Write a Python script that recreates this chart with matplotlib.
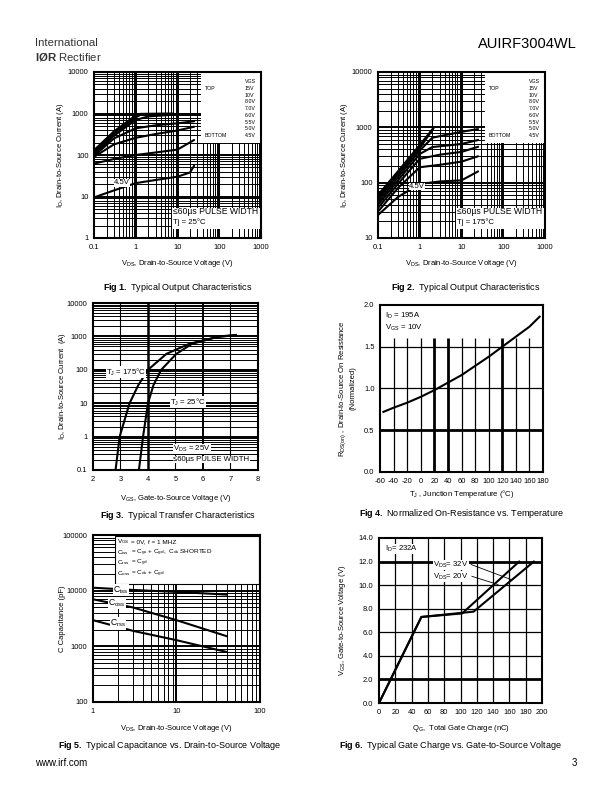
import matplotlib
matplotlib.use('Agg')
import matplotlib.pyplot as plt
import numpy as np
from matplotlib.patches import Rectangle
from matplotlib.ticker import FixedLocator, NullFormatter, LogLocator

plt.rcParams['font.family'] = ['Liberation Sans', 'DejaVu Sans']
plt.rcParams['mathtext.fontset'] = 'custom'
plt.rcParams['mathtext.rm'] = 'Liberation Sans'
plt.rcParams['mathtext.it'] = 'Liberation Sans:italic'
plt.rcParams['mathtext.bf'] = 'Liberation Sans:bold'

# ---------------- data ----------------
vgs_steps = ['15V', '10V', '8.0V', '7.0V', '6.0V', '5.5V', '5.0V', '4.5V']

# Fig 1 : Tj = 25 C
f1_vds = [[0.1, 0.3, 1.0, 1.3, 3, 8],
          [0.1, 0.3, 1.0, 1.3],
          [0.1, 0.3, 1.0, 1.3],
          [0.1, 0.3, 1.0, 2, 10],
          [0.1, 0.3, 1, 3, 10, 25],
          [0.1, 0.3, 1, 3, 10, 25],
          [0.1, 0.3, 1, 3, 10, 25],
          [0.1, 0.3, 1, 3, 10, 20, 25]]
f1_id = [[130, 370, 900, 980, 990, 1000],
         [120, 340, 850, 960],
         [110, 310, 800, 940],
         [100, 290, 700, 850, 950],
         [95, 250, 440, 520, 580, 650],
         [90, 180, 260, 320, 390, 480],
         [62, 80, 100, 115, 135, 230],
         [9.5, 14, 21, 25, 30, 38, 55]]

# Fig 2 : Tj = 175 C
f2_vds = [[0.1, 0.3, 1, 2.2],
          [0.1, 0.3, 1, 2.1],
          [0.1, 0.3, 1, 2.0],
          [0.1, 0.3, 1, 2, 10, 25],
          [0.1, 0.3, 1, 2, 10, 25],
          [0.1, 0.3, 1, 3, 10, 25],
          [0.1, 0.3, 1, 3, 10, 25],
          [0.1, 0.3, 1, 3, 10, 25]]
f2_id = [[60, 160, 480, 1000],
         [55, 150, 450, 950],
         [50, 140, 420, 900],
         [45, 125, 380, 650, 830, 930],
         [40, 110, 330, 440, 500, 590],
         [35, 95, 270, 320, 360, 445],
         [30, 80, 190, 210, 240, 300],
         [26, 55, 95, 105, 110, 160]]

# Fig 3 : transfer characteristics
f3_vgs_175 = [2.82, 2.97, 3.33, 3.65, 4.0, 4.67, 5.5, 6.6, 7.2]
f3_id_175 = [0.1, 1, 10, 35, 100, 300, 600, 1000, 1100]
f3_vgs_25 = [3.67, 3.82, 4.0, 4.2, 4.48, 5.03, 5.6, 6.5, 7.2]
f3_id_25 = [0.1, 1, 10, 35, 100, 300, 600, 950, 1100]

# Fig 4 : normalized Rds(on) vs Tj
f4_tj = [-55, -40, -20, 0, 20, 40, 60, 80, 100, 120, 140, 160, 175]
f4_r = [0.72, 0.77, 0.83, 0.90, 0.98, 1.07, 1.16, 1.27, 1.38, 1.50, 1.62, 1.74, 1.86]

# Fig 5 : capacitance
f5_vds = [1, 3, 10, 40]
f5_ciss = [11300, 10300, 9500, 8500]
f5_coss = [7000, 5000, 2950, 1520]
f5_crss = [2950, 1900, 1290, 790]

# Fig 6 : gate charge
f6_qg_20 = [0, 52, 102, 172]
f6_vgs_20 = [0, 7.3, 7.6, 12.0]
f6_qg_32 = [0, 52, 116, 190]
f6_vgs_32 = [0, 7.3, 7.75, 12.0]

# ---------------- helpers ----------------
W, H = 612, 792
fig = plt.figure(figsize=(6.12, 7.92), dpi=100)


def rect(l, t, r, b):
    return [l / W, 1 - b / H, (r - l) / W, (b - t) / H]


def P(x, y):
    return (x / W, 1 - y / H)


def ftext(x, y, s, **kw):
    kw.setdefault('fontsize', 5.5)
    kw.setdefault('va', 'center')
    fig.text(x / W, 1 - y / H, s, **kw)


def white_box(ax, l, t, r, b):
    ax.add_patch(Rectangle(P(l, b), (r - l) / W, (b - t) / H, transform=fig.transFigure,
                           facecolor='white', edgecolor='none', zorder=1.5, clip_on=False))


def base(ax):
    for s in ax.spines.values():
        s.set_linewidth(1.5)
        s.set_zorder(3)
    ax.tick_params(which='both', length=0, labelsize=5.4, pad=4)
    ax.set_axisbelow(True)


def loggrid(ax, axis):
    a = ax.xaxis if axis == 'x' else ax.yaxis
    a.set_minor_locator(LogLocator(base=10, subs=np.arange(2, 10), numticks=100))
    a.set_minor_formatter(NullFormatter())
    ax.grid(which='major', axis=axis, color='k', lw=1.4)
    ax.grid(which='minor', axis=axis, color='k', lw=0.7)


LW = 1.5
WB = dict(facecolor='white', edgecolor='none', pad=0.3)


# ---------------- Fig 1 & 2 ----------------
def output_plot(rect_px, vds, ids, ylo, lab45, tj):
    l, t, r, b = rect_px
    ax = fig.add_axes(rect(*rect_px))
    base(ax)
    ax.set_xscale('log'); ax.set_yscale('log')
    ax.set_xlim(0.1, 1000); ax.set_ylim(ylo, 10000)
    xt = [0.1, 1, 10, 100, 1000]
    ax.xaxis.set_major_locator(FixedLocator(xt))
    ax.set_xticklabels(['0.1', '1', '10', '100', '1000'])
    yt = [v for v in [1, 10, 100, 1000, 10000] if v >= ylo]
    ax.yaxis.set_major_locator(FixedLocator(yt))
    ax.set_yticklabels([str(v) for v in yt])
    loggrid(ax, 'x'); loggrid(ax, 'y')
    for xs, ys in zip(vds, ids):
        ax.plot(xs, ys, color='k', lw=LW, zorder=2, solid_capstyle='round')
    # legend box
    bl = r - 60
    white_box(ax, bl, t + 1, r - 1, 143)
    ftext(r - 16, 81.7, 'VGS', fontsize=3.8, zorder=5)
    for i, s in enumerate(vgs_steps):
        ftext(r - 16, 88.3 + 6.77 * i, s, fontsize=3.8, zorder=5)
    ftext(bl + 4, 88.3, 'TOP', fontsize=3.8, zorder=5)
    ftext(bl + 4, 88.3 + 6.77 * 7, 'BOTTOM', fontsize=3.8, zorder=5)
    # pulse box
    white_box(ax, r - 89, 207.5, r - 1, 228.5)
    ftext(r - 88, 212, '\u226460\u00b5s PULSE WIDTH', fontsize=6.2, zorder=5)
    ftext(r - 88, 222, tj, fontsize=5.6, zorder=5)
    ftext(lab45[0], lab45[1], '4.5V', fontsize=5.6, zorder=5, bbox=WB)
    cx = (l + r) / 2
    ftext(cx, 264, r'V$_{\rm DS}$, Drain-to-Source Voltage (V)', ha='center')
    ftext(l - 33, (t + b) / 2, r'I$_{\rm D}$, Drain-to-Source Current (A)', ha='center',
          rotation=90)
    return ax


output_plot((94, 72, 261, 238), f1_vds, f1_id, 1, (114, 183), 'Tj = 25°C')
output_plot((378, 72, 545, 238), f2_vds, f2_id, 10, (409, 186.5), 'Tj = 175°C')

# ---------------- Fig 3 ----------------
l, t, r, b = 93, 303, 258, 470
ax3 = fig.add_axes(rect(l, t, r, b))
base(ax3)
ax3.set_yscale('log')
ax3.set_xlim(2, 8); ax3.set_ylim(0.1, 10000)
ax3.xaxis.set_major_locator(FixedLocator([2, 3, 4, 5, 6, 7, 8]))
ax3.set_xticklabels(['2', '3', '4', '5', '6', '7', '8'])
ax3.yaxis.set_major_locator(FixedLocator([0.1, 1, 10, 100, 1000, 10000]))
ax3.set_yticklabels(['0.1', '1', '10', '100', '1000', '10000'])
loggrid(ax3, 'y')
for xv, w in [(3, 0.8), (4, 1.8), (5, 0.8), (6, 1.4), (7, 0.8)]:
    ax3.axvline(xv, color='k', lw=w, zorder=0.6)
ax3.plot(f3_vgs_175, f3_id_175, color='k', lw=LW, zorder=2)
ax3.plot(f3_vgs_25, f3_id_25, color='k', lw=LW, zorder=2)
ftext(106, 372, r'T$_{\rm J}$ = 175°C', fontsize=5.6, bbox=WB)
ftext(170, 402, r'T$_{\rm J}$ = 25°C', fontsize=5.6, bbox=WB)
ftext(173, 449, r'V$_{\rm DS}$ = 25V', fontsize=5.6, bbox=WB)
ftext(173, 459.5, '\u226460\u00b5s PULSE WIDTH', fontsize=5.6, bbox=WB)
ftext((l + r) / 2, 498, r'V$_{\rm GS}$, Gate-to-Source Voltage (V)', ha='center')
ftext(l - 31, (t + b) / 2, r'I$_{\rm D}$, Drain-to-Source Current  (A)', ha='center', rotation=90)

# ---------------- Fig 4 ----------------
l, t, r, b = 380, 305, 543, 472
ax4 = fig.add_axes(rect(l, t, r, b))
base(ax4)
ax4.set_xlim(-60, 180); ax4.set_ylim(0, 2.0)
xt4 = list(range(-60, 181, 20))
ax4.xaxis.set_major_locator(FixedLocator(xt4))
ax4.set_xticklabels([str(v) for v in xt4])
yt4 = [0.0, 0.5, 1.0, 1.5, 2.0]
ax4.yaxis.set_major_locator(FixedLocator(yt4))
ax4.set_yticklabels(['%.1f' % v for v in yt4])
for xv in range(-40, 180, 20):
    w = 2.0 if xv in (20, 40, 120) else 0.9
    ax4.vlines(xv, 0.0, 1.6, color='k', lw=w, zorder=0.6)
for yv, w in [(0.5, 2.0), (1.0, 0.9), (1.5, 0.9)]:
    ax4.axhline(yv, color='k', lw=w, zorder=0.6)
ax4.plot(f4_tj, f4_r, color='k', lw=LW, zorder=2)
ftext(385, 315.5, r'I$_{\rm D}$ = 195A', fontsize=5.6)
ftext(385, 327.5, r'V$_{\rm GS}$ = 10V', fontsize=5.6)
ftext((l + r) / 2, 494, r'T$_{\rm J}$ , Junction Temperature (°C)', ha='center')
ftext(343, (t + b) / 2, r'R$_{\rm DS(on)}$ , Drain-to-Source On Resistance', ha='center', rotation=90)
ftext(353, (t + b) / 2, '(Normalized)', ha='center', rotation=90)

# ---------------- Fig 5 ----------------
l, t, r, b = 93, 535, 260, 702
ax5 = fig.add_axes(rect(l, t, r, b))
base(ax5)
ax5.set_xscale('log'); ax5.set_yscale('log')
ax5.set_xlim(1, 100); ax5.set_ylim(100, 100000)
ax5.xaxis.set_major_locator(FixedLocator([1, 10, 100]))
ax5.set_xticklabels(['1', '10', '100'])
ax5.yaxis.set_major_locator(FixedLocator([100, 1000, 10000, 100000]))
ax5.set_yticklabels(['100', '1000', '10000', '100000'])
loggrid(ax5, 'x'); loggrid(ax5, 'y')
white_box(ax5, 115, t + 1, r - 1, 584)
ax5.add_patch(Rectangle(P(115, 584), (r - 1 - 115) / W, (584 - t - 1) / H,
                        transform=fig.transFigure, facecolor='none', edgecolor='k',
                        lw=0.8, zorder=1.6, clip_on=False))
ax5.plot(f5_vds, f5_ciss, color='k', lw=LW, zorder=2)
ax5.plot(f5_vds, f5_coss, color='k', lw=LW, zorder=2)
ax5.plot(f5_vds, f5_crss, color='k', lw=LW, zorder=2)
fs5 = 4.6
ftext(117, 542, r'V$_{\rm GS}$', fontsize=fs5)
ftext(131, 542, '= 0V,', fontsize=fs5)
ftext(148, 542, 'f = 1 MHZ', fontsize=fs5)
ftext(117, 552.5, r'C$_{\rm iss}$', fontsize=fs5)
ftext(131, 552.5, r'= C$_{\rm gs}$ + C$_{\rm gd}$,  C$_{\rm ds}$ SHORTED', fontsize=fs5)
ftext(117, 563, r'C$_{\rm rss}$', fontsize=fs5)
ftext(131, 563, r'= C$_{\rm gd}$', fontsize=fs5)
ftext(117, 573.5, r'C$_{\rm oss}$', fontsize=fs5)
ftext(131, 573.5, r'= C$_{\rm ds}$ + C$_{\rm gd}$', fontsize=fs5)
bb = dict(facecolor='white', edgecolor='none', pad=0.2)
ftext(113, 590, r'C$_{\rm iss}$', fontsize=6.2, bbox=bb)
ftext(108, 603, r'C$_{\rm oss}$', fontsize=6.2, bbox=bb)
ftext(110, 623.5, r'C$_{\rm rss}$', fontsize=6.2, bbox=bb)
ftext((l + r) / 2, 728, r'V$_{\rm DS}$, Drain-to-Source Voltage (V)', ha='center')
ftext(l - 31, (t + b) / 2, 'C Capacitance (pF)', ha='center', rotation=90)

# ---------------- Fig 6 ----------------
l, t, r, b = 379, 538, 542, 703
ax6 = fig.add_axes(rect(l, t, r, b))
base(ax6)
ax6.set_xlim(0, 200); ax6.set_ylim(0, 14)
xt6 = list(range(0, 201, 20))
ax6.xaxis.set_major_locator(FixedLocator(xt6))
ax6.set_xticklabels([str(v) for v in xt6])
yt6 = list(range(0, 15, 2))
ax6.yaxis.set_major_locator(FixedLocator(yt6))
ax6.set_yticklabels(['%.1f' % v for v in yt6])
for xv in range(20, 200, 20):
    ax6.axvline(xv, color='k', lw=0.9, zorder=0.6)
for yv in range(2, 14, 2):
    ax6.axhline(yv, color='k', lw=2.0 if yv in (2, 12) else 0.9, zorder=0.6)
ax6.plot(f6_qg_20, f6_vgs_20, color='k', lw=LW, zorder=2)
ax6.plot(f6_qg_32, f6_vgs_32, color='k', lw=LW, zorder=2)
ftext(385, 549, r'I$_{\rm D}$= 232A', fontsize=5.6, bbox=WB)
ftext(433, 565, r'V$_{\rm DS}$= 32V', fontsize=5.6, bbox=WB)
ftext(433, 576.5, r'V$_{\rm DS}$= 20V', fontsize=5.6, bbox=WB)
ax6.plot([113, 163], [11.75, 10.45], color='k', lw=0.6, zorder=2)
ax6.plot([114, 146], [10.75, 10.05], color='k', lw=0.6, zorder=2)
ftext((l + r) / 2, 728, r'Q$_{\rm G}$,  Total Gate Charge (nC)', ha='center')
ftext(343, (t + b) / 2, r'V$_{\rm GS}$, Gate-to-Source Voltage (V)', ha='center', rotation=90)

# ---------------- page text ----------------
ftext(35, 43, 'International', fontsize=8.2, color='#333333')
ftext(35, 57, r'$\bf{I\O R}$ Rectifier', fontsize=8.2, color='#333333')
ftext(577, 44, 'AUIRF3004WL', fontsize=10.5, ha='right')
capfs = 6.5
ftext(177.5, 287, r'$\bf{Fig\ 1.}$ Typical Output Characteristics', fontsize=capfs, ha='center')
ftext(466, 287, r'$\bf{Fig\ 2.}$ Typical Output Characteristics', fontsize=capfs, ha='center')
ftext(177.5, 516, r'$\bf{Fig\ 3.}$ Typical Transfer Characteristics', fontsize=capfs, ha='center')
ftext(461.5, 513, r'$\bf{Fig\ 4.}$ Normalized On-Resistance vs. Temperature', fontsize=capfs, ha='center')
ftext(170, 745, r'$\bf{Fig\ 5.}$ Typical Capacitance vs. Drain-to-Source Voltage', fontsize=capfs, ha='center')
ftext(450.5, 745, r'$\bf{Fig\ 6.}$ Typical Gate Charge vs. Gate-to-Source Voltage', fontsize=capfs, ha='center')
ftext(35, 763, 'www.irf.com', fontsize=7)
ftext(577, 763, '3', fontsize=7, ha='right')

fig.savefig('out.png', dpi=100)
